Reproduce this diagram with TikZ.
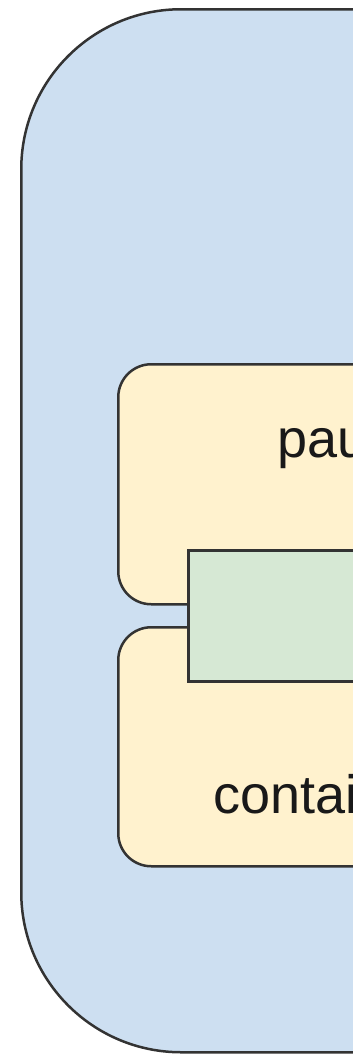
\documentclass[tikz,border=0pt]{standalone}
\usepackage{fontspec}
\setmainfont{Liberation Sans}
\usepackage{xcolor}
\usepackage{tikz}
\usetikzlibrary{positioning}
\definecolor{podblue}{RGB}{205,223,241}
\definecolor{ctryellow}{RGB}{255,242,206}
\definecolor{netgreen}{RGB}{214,232,212}
\definecolor{edgegray}{RGB}{51,51,51}

\begin{document}
\begin{tikzpicture}[x=1pt, y=-1pt,
    pod/.style={rectangle, draw=edgegray, line width=2.5pt, fill=podblue, rounded corners=160pt, anchor=north west, inner sep=0pt},
    ctr/.style={rectangle, draw=edgegray, line width=2.5pt, fill=ctryellow, rounded corners=33pt, anchor=north west, inner sep=0pt},
    net/.style={rectangle, draw=edgegray, line width=2.5pt, fill=netgreen, anchor=north west, inner sep=0pt},
    lbl/.style={anchor=base west, inner sep=0pt, font=\fontsize{54}{60}\selectfont, text=black!90}]

    \useasboundingbox (0,0) rectangle (353,1055);
    \clip (0,0) rectangle (353,1055);

    \node[pod, minimum width=700pt, minimum height=1043pt] (podbox) at (20,8) {};
    \node[ctr, minimum width=600pt, minimum height=240pt] (pausebox) at (117,363) {};
    \node[ctr, minimum width=600pt, minimum height=239pt] (mainbox) at (117,626) {};
    \node[net, minimum width=500pt, minimum height=131pt] (netbox) at (187,549) {};

    \node[lbl] (pausetxt) at (277,457) {pause};
    \node[lbl] (maintxt) at (213,813) {container};
\end{tikzpicture}
\end{document}
